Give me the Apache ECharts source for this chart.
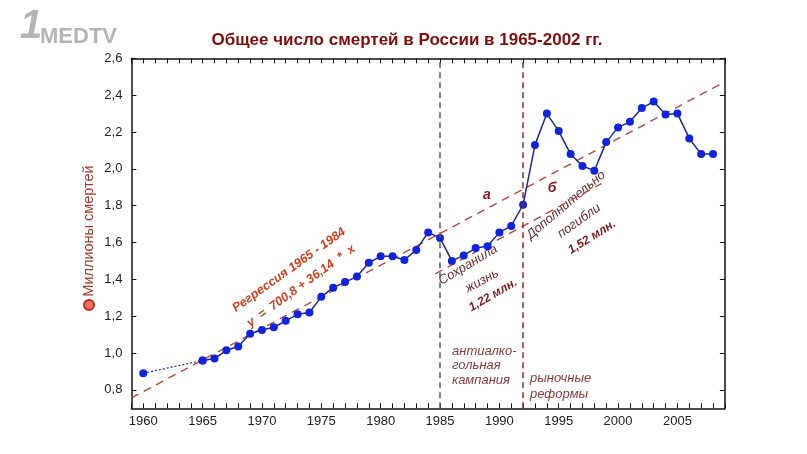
<!DOCTYPE html>
<html>
<head>
<meta charset="utf-8">
<script src="https://cdn.jsdelivr.net/npm/echarts@6/dist/echarts.min.js"></script>
<style>
  html, body { margin: 0; background: #fff; }
  #chart { width: 807px; height: 454px; }
</style>
</head>
<body>
<div id="chart"></div>
<script>
// годы и число смертей (млн)
const years = [1960, 1965, 1966, 1967, 1968, 1969, 1970, 1971, 1972, 1973, 1974,
  1975, 1976, 1977, 1978, 1979, 1980, 1981, 1982, 1983, 1984, 1985, 1986, 1987,
  1988, 1989, 1990, 1991, 1992, 1993, 1994, 1995, 1996, 1997, 1998, 1999, 2000,
  2001, 2002, 2003, 2004, 2005, 2006, 2007, 2008];
const deaths = [0.89, 0.96, 0.97, 1.015, 1.035, 1.105, 1.125, 1.14, 1.175, 1.21, 1.22,
  1.305, 1.355, 1.385, 1.415, 1.49, 1.525, 1.525, 1.505, 1.56, 1.655, 1.625, 1.50, 1.53,
  1.57, 1.58, 1.655, 1.69, 1.805, 2.13, 2.30, 2.205, 2.08, 2.015, 1.99, 2.145, 2.225,
  2.255, 2.33, 2.365, 2.295, 2.30, 2.165, 2.08, 2.08];

// линия регрессии 1965-1984 (а) и сдвинутая линия (б)
const trendYears = [1959, 2009];
const trendValues = [0.756, 2.473];
const lowerYears = [1984.6, 1998.6];
const lowerValues = [1.43, 1.92];

const eventYears = [1985, 1992];
const xLabels = [1960, 1965, 1970, 1975, 1980, 1985, 1990, 1995, 2000, 2005];
const yTicks = [0.8, 1.0, 1.2, 1.4, 1.6, 1.8, 2.0, 2.2, 2.4, 2.6];

const FONT = "'Liberation Sans', Arial, sans-serif";
const pairs = (xs, ys) => xs.map((x, i) => [x, ys[i]]);

const chart = echarts.init(document.getElementById("chart"));

const axisCommon = {
  type: "value",
  axisLine: { show: true, lineStyle: { color: "#111", width: 1.5 } },
  splitLine: { show: false }
};

const note = (text, x, y, rot, opts) => ({
  type: "text",
  x: x,
  y: y,
  rotation: rot,
  silent: true,
  style: Object.assign({
    text: text,
    align: "center",
    verticalAlign: "middle",
    fontFamily: FONT,
    fontSize: 13,
    fontStyle: "italic",
    fill: "#6b2c2c"
  }, opts || {})
});

chart.setOption({
  animation: false,
  backgroundColor: "#fff",
  title: {
    text: "Общее число смертей в России в 1965-2002 гг.",
    left: 402,
    top: 27,
    textAlign: "center",
    textStyle: { fontFamily: FONT, fontSize: 17, fontWeight: "bold", color: "#820c0c" }
  },
  grid: { left: 131.4, right: 82.1, top: 58.3, bottom: 45.7 },
  xAxis: [
    Object.assign({}, axisCommon, {
      min: 1959, max: 2009, interval: 1, position: "bottom",
      axisTick: { show: true, inside: true, length: 5, lineStyle: { color: "#111" } },
      axisLabel: {
        customValues: xLabels,
        formatter: v => String(v),
        margin: 7,
        fontFamily: FONT, fontSize: 13, color: "#222"
      }
    }),
    Object.assign({}, axisCommon, {
      min: 1959, max: 2009, interval: 1, position: "top",
      axisTick: { show: true, inside: true, length: 5, lineStyle: { color: "#111" } },
      axisLabel: { show: false }
    })
  ],
  yAxis: [
    Object.assign({}, axisCommon, {
      min: 0.7, max: 2.6, position: "left",
      axisTick: { show: true, inside: true, length: 5, customValues: yTicks, lineStyle: { color: "#111" } },
      axisLabel: {
        customValues: yTicks,
        formatter: v => v.toFixed(1).replace(".", ","),
        margin: 9,
        fontFamily: FONT, fontSize: 13, color: "#222"
      }
    }),
    Object.assign({}, axisCommon, {
      min: 0.7, max: 2.6, position: "right",
      axisTick: { show: true, inside: true, length: 5, customValues: yTicks, lineStyle: { color: "#111" } },
      axisLabel: { show: false }
    })
  ],
  series: [
    {
      name: "регрессия",
      type: "line",
      data: pairs(trendYears, trendValues),
      symbol: "none",
      lineStyle: { color: "#b8483c", width: 1.4, type: [8, 6] },
      z: 2,
      markLine: {
        silent: true,
        symbol: ["none", "none"],
        label: { show: false },
        lineStyle: { type: [6, 4], width: 1.5 },
        data: [
          { xAxis: eventYears[0], lineStyle: { color: "#6e5252" } },
          { xAxis: eventYears[1], lineStyle: { color: "#9a2424" } }
        ]
      }
    },
    {
      name: "б",
      type: "line",
      data: pairs(lowerYears, lowerValues),
      symbol: "none",
      lineStyle: { color: "#b8483c", width: 1.4, type: [8, 6] },
      z: 2
    },
    {
      name: "1960-1965",
      type: "line",
      data: pairs(years.slice(0, 2), deaths.slice(0, 2)),
      symbol: "circle",
      symbolSize: 8,
      itemStyle: { color: "#1024e0" },
      lineStyle: { color: "#2030a0", width: 1.2, type: [2, 2] },
      z: 3
    },
    {
      name: "смерти",
      type: "line",
      data: pairs(years.slice(1), deaths.slice(1)),
      symbol: "circle",
      symbolSize: 8,
      itemStyle: { color: "#1024e0" },
      lineStyle: { color: "#1c2a8e", width: 1.5 },
      z: 4
    }
  ],
  graphic: [
    // логотип
    { type: "text", x: 20, y: 47, silent: true,
      style: { text: "1", fontFamily: FONT, fontSize: 40, fontWeight: "bold", fontStyle: "italic",
        fill: "#b4b4b4", verticalAlign: "bottom" } },
    { type: "text", x: 40, y: 48, silent: true,
      style: { text: "MEDTV", fontFamily: FONT, fontSize: 22, fontWeight: "bold", fill: "#b4b4b4", verticalAlign: "bottom" } },
    // подпись оси Y
    { type: "circle", shape: { cx: 89, cy: 305, r: 5 }, silent: true,
      style: { fill: "#f07060", stroke: "#c02818", lineWidth: 2 } },
    note("Миллионы смертей", 89, 231, Math.PI / 2,
      { fontStyle: "normal", fontSize: 14.5, fill: "#a8382c" }),
    // регрессия
    note("Регрессия 1965 - 1984", 289, 270, 0.62,
      { fontSize: 12.5, fontWeight: "bold", fill: "#d0401e" }),
    note("y  =  700,8 + 36,14  *  x", 301, 286, 0.63,
      { fontSize: 12.5, fontWeight: "bold", fill: "#d0401e" }),
    note("а", 487, 195, 0, { fontSize: 14, fontWeight: "bold", fill: "#8b1a1a" }),
    note("б", 552, 188, 0, { fontSize: 14, fontWeight: "bold", fill: "#8b1a1a" }),
    note("Сохранила", 468, 265, 0.54),
    note("жизнь", 482, 281, 0.5),
    note("1,22 млн.", 493, 295, 0.53, { fontWeight: "bold", fontSize: 12, fill: "#7a1a1a" }),
    note("Дополнительно", 566, 205, 0.7),
    note("погибли", 579, 221, 0.62),
    note("1,52 млн.", 592, 237, 0.56, { fontWeight: "bold", fontSize: 12, fill: "#7a1a1a" }),
    note("антиалко-\nгольная\nкампания", 452, 344, 0,
      { align: "left", verticalAlign: "top", lineHeight: 14.5, fill: "#8b3a3a" }),
    note("рыночные\nреформы", 530, 370, 0,
      { align: "left", verticalAlign: "top", lineHeight: 16, fill: "#8b3a3a" })
  ]
});
</script>
</body>
</html>
